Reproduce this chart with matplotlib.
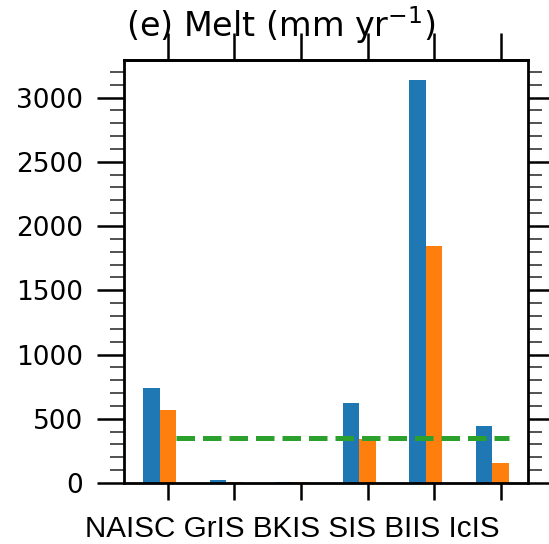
import matplotlib
matplotlib.use("Agg")
import matplotlib.pyplot as plt
import numpy as np
from matplotlib.ticker import MultipleLocator

categories = ["NAISC", "GrIS", "BKIS", "SIS", "BIIS", "IcIS"]
series_a = [742, 23, 8, 621, 3135, 444]
series_b = [568, 9, 9, 343, 1846, 153]
ref_line = 353
title = r"(e) Melt (mm yr$^{-1}$)"

fig = plt.figure(figsize=(5.49, 5.44), dpi=100)
ax = fig.add_axes([124/549, 1-483/544, (528-124)/549, (483-60)/544])

x = np.arange(len(categories))
w = 0.25
ax.bar(x - w, series_a, width=w, color="#1f77b4", zorder=2)
ax.bar(x, series_b, width=w, color="#ff7f0e", zorder=2)
ax.hlines(ref_line, x[0] + w/2, x[-1] + w/2, colors="#2ca02c", linestyles="--", linewidth=3.6, zorder=3)

ax.set_xlim(-0.66, 5.41)
ax.set_ylim(0, 3292)

for s in ax.spines.values():
    s.set_linewidth(2.0)

ax.set_xticks(x)
ax.set_xticklabels([])
ax.tick_params(axis="x", which="major", length=12.2, width=1.8, top=False)

ax.yaxis.set_major_locator(MultipleLocator(500))
ax.yaxis.set_minor_locator(MultipleLocator(100))
ax.tick_params(axis="y", which="major", length=19.4, width=1.8, pad=10, labelsize=19, left=True, right=True, direction="out")
ax.tick_params(axis="y", which="minor", length=10, width=1.2, left=True, right=True, direction="out", color="#333333")

sec = ax.secondary_xaxis("top")
sec.set_xticks(x)
sec.set_xticklabels([])
sec.tick_params(length=19.4, width=1.8)
sec.spines["top"].set_linewidth(2.0)

# category labels as one line of text beneath the axis
fig.text(292/549, 1-537/544, " ".join(categories), ha="center", va="baseline",
         fontsize=21.3, family="Liberation Sans")

fig.text(281/549, 1-37/544, title, ha="center", va="baseline", fontsize=24, family="DejaVu Sans")

fig.savefig("out.png", dpi=100)
